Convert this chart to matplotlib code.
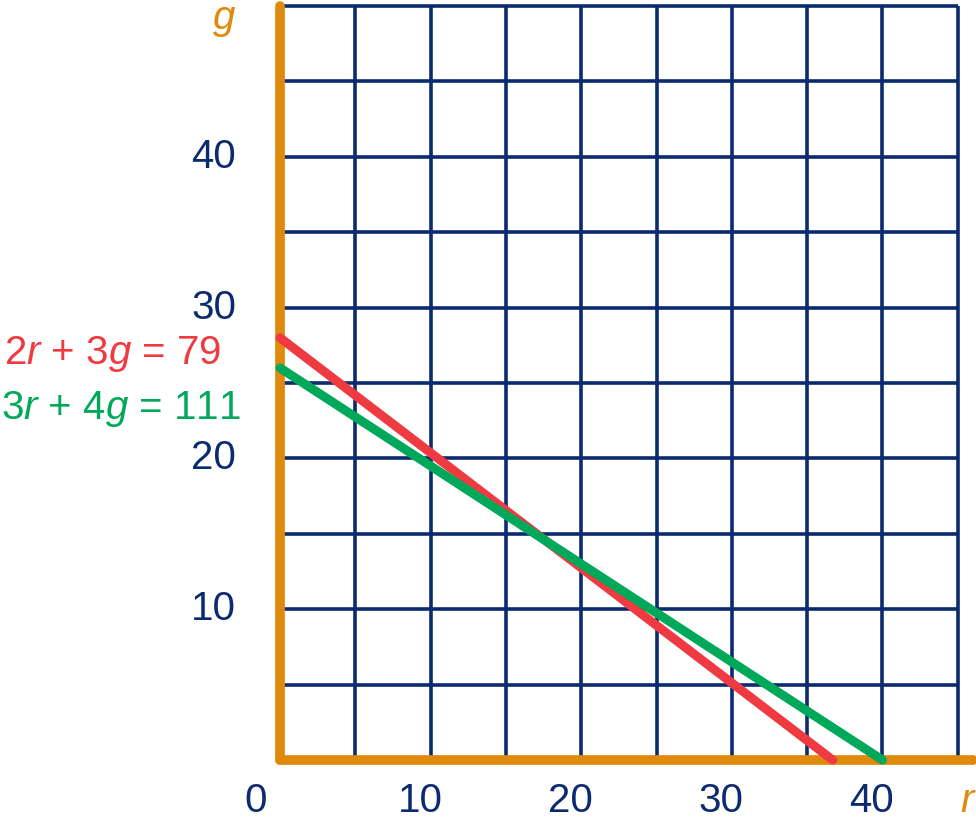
import matplotlib.pyplot as plt

plt.rcParams['font.family'] = ['Liberation Sans', 'DejaVu Sans']
plt.rcParams['mathtext.fontset'] = 'custom'
plt.rcParams['mathtext.rm'] = 'Liberation Sans'
plt.rcParams['mathtext.it'] = 'Liberation Sans:italic'

navy = '#0b2a6f'
orange = '#df8a0c'
red = '#ee3a40'
green = '#00a85a'

# grid and tick values
grid_x = [5, 10, 15, 20, 25, 30, 35, 40, 45]
grid_y = [5, 10, 15, 20, 25, 30, 35, 40, 45, 50]
xticks = [0, 10, 20, 30, 40]
yticks = [10, 20, 30, 40]

# line endpoints as drawn in the picture (r, g)
red_r = [0, 36.7]
red_g = [28.0, 0]
green_r = [0, 40.0]
green_g = [26.0, 0]

labels = ['2$\\it{r}$ + 3$\\it{g}$ = 79', '3$\\it{r}$ + 4$\\it{g}$ = 111']

fig = plt.figure(figsize=(9.76, 8.21), dpi=100)
ax = fig.add_axes([280 / 976, 61 / 821, 696 / 976, 760 / 821])
ax.set_xlim(0, 696 / 15.06)
ax.set_ylim(0, 760 / 15.08)
ax.axis('off')

ax.vlines(grid_x, 0, 50, color=navy, lw=2.6, zorder=1)
ax.hlines(grid_y, 0, 45, color=navy, lw=2.6, zorder=1)

ax.plot([0, 0], [0, 50], color=orange, lw=7, solid_capstyle='round', clip_on=False, zorder=2)
ax.plot([0, 46], [0, 0], color=orange, lw=7, solid_capstyle='round', clip_on=False, zorder=2)

ax.plot(red_r, red_g, color=red, lw=6.5, solid_capstyle='round', clip_on=False, zorder=3)
ax.plot(green_r, green_g, color=green, lw=6.5, solid_capstyle='round', clip_on=False, zorder=4)

fs = 29
for t in xticks:
    off = -1.6 if t == 0 else -0.7
    ax.text(t + off, -2.7, str(t), color=navy, fontsize=fs, ha='center', va='center', clip_on=False)
for t in yticks:
    ax.text(-2.9, t, str(t), color=navy, fontsize=fs, ha='right', va='center', clip_on=False)

ax.text(-3.0, 49.2, 'g', color=orange, fontsize=fs, style='italic', ha='right', va='center', clip_on=False)
ax.text(45.6, -2.7, 'r', color=orange, fontsize=fs, style='italic', ha='center', va='center', clip_on=False)

ax.text(-18.3, 26.9, labels[0], color=red, fontsize=fs, ha='left', va='center', clip_on=False)
ax.text(-18.5, 23.3, labels[1], color=green, fontsize=fs, ha='left', va='center', clip_on=False)

fig.savefig('out.png', dpi=100)
